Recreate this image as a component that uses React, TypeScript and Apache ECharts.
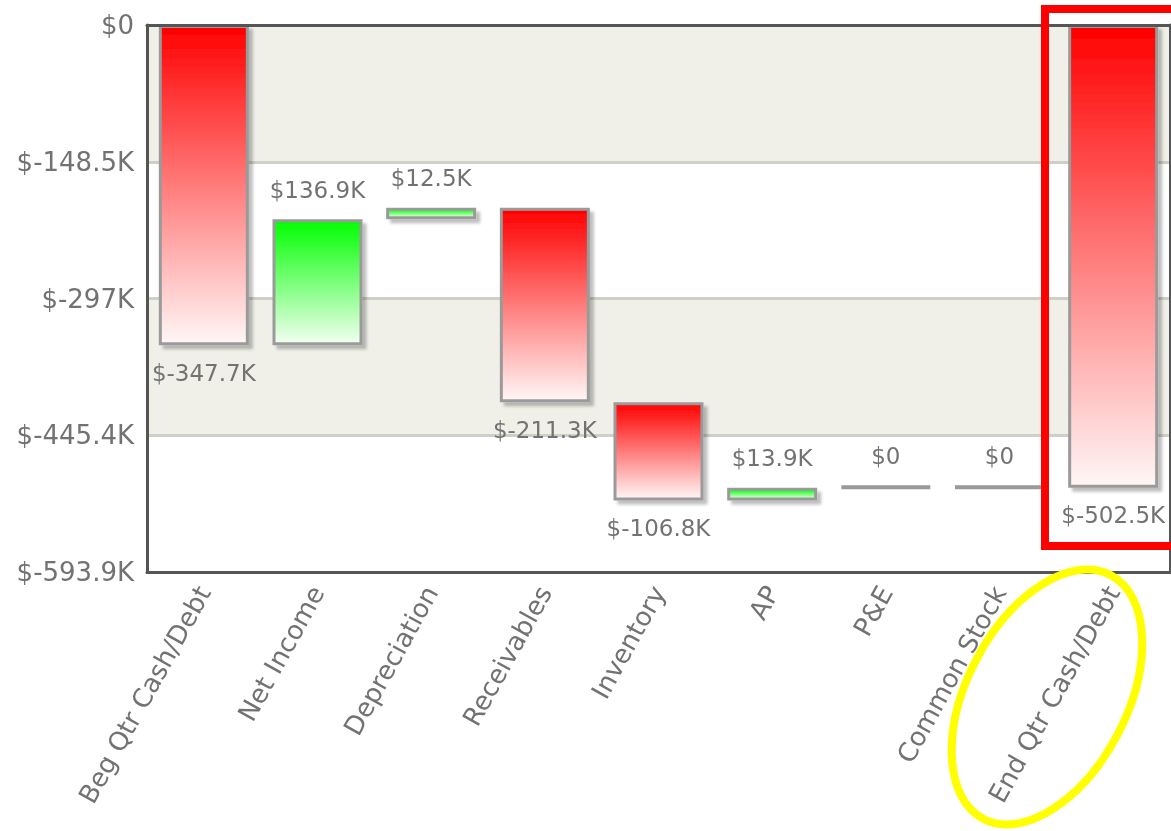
import React, { useEffect, useRef } from 'react';
import * as echarts from 'echarts';

// Waterfall data (values in $K)
const categories = [
  'Beg Qtr Cash/Debt',
  'Net Income',
  'Depreciation',
  'Receivables',
  'Inventory',
  'AP',
  'P&E',
  'Common Stock',
  'End Qtr Cash/Debt',
];
const amounts = [-347.7, 136.9, 12.5, -211.3, -106.8, 13.9, 0, 0, -502.5];
const isTotal = [true, false, false, false, false, false, false, false, true];
const yTickLabels = ['$0', '$-148.5K', '$-297K', '$-445.4K', '$-593.9K'];
const yMin = -593.9;
const yStep = 148.475;

const TEXT = '#727272';
const FONT = 'DejaVu Sans';
const FRAME = { color: '#555555', width: 3 };

function buildWaterfall() {
  let running = 0;
  const base: number[] = [];
  const span: number[] = [];
  amounts.forEach((a, i) => {
    if (isTotal[i]) {
      base.push(0);
      span.push(a);
      running = a;
    } else {
      const start = running;
      const end = running + a;
      running = end;
      base.push(Math.max(start, end));
      span.push(a === 0 ? 0 : -Math.abs(a));
    }
  });
  return { base, span };
}

const redGrad = () =>
  new echarts.graphic.LinearGradient(0, 0, 0, 1, [
    { offset: 0, color: '#ff0000' },
    { offset: 1, color: '#fff6f6' },
  ]);
const greenGrad = () =>
  new echarts.graphic.LinearGradient(0, 0, 0, 1, [
    { offset: 0, color: '#00ff00' },
    { offset: 1, color: '#f2fff2' },
  ]);

export default function App() {
  const ref = useRef<HTMLDivElement>(null);
  useEffect(() => {
    if (!ref.current) return;
    const chart = echarts.init(ref.current, undefined, { renderer: 'svg' });
    const { base, span } = buildWaterfall();
    const fmt = (a: number) => (a === 0 ? '$0' : `$${a}K`);
    chart.setOption({
      animation: false,
      grid: {
        left: 147,
        top: 25,
        width: 1023,
        height: 547,
        show: false,
      },
      xAxis: [
        {
          type: 'category',
          data: categories,
          position: 'bottom',
          axisLine: { show: true, onZero: false, lineStyle: FRAME },
          axisTick: { show: false },
          axisLabel: {
            interval: 0,
            rotate: 61,
            fontSize: 26,
            color: TEXT,
            fontFamily: FONT,
            margin: 16,
          },
          z: 6,
        },
        {
          type: 'category',
          data: categories,
          position: 'top',
          axisLine: { show: true, onZero: false, lineStyle: FRAME },
          axisTick: { show: false },
          axisLabel: { show: false },
          z: 6,
        },
      ],
      yAxis: [
        {
          type: 'value',
          min: yMin,
          max: 0,
          interval: yStep,
          position: 'left',
          axisLine: { show: true, onZero: false, lineStyle: FRAME },
          axisTick: { show: false },
          axisLabel: {
            formatter: (v: number) => yTickLabels[Math.round(-v / yStep)] ?? '',
            fontSize: 26,
            color: TEXT,
            fontFamily: FONT,
            margin: 13,
          },
          splitLine: { lineStyle: { color: '#cfcfc7', width: 3 } },
          splitArea: { show: true, areaStyle: { color: ['#ffffff', '#f0f0e9'] } },
          z: 0,
        },
        {
          type: 'value',
          min: yMin,
          max: 0,
          interval: yStep,
          position: 'right',
          axisLine: { show: true, onZero: false, lineStyle: FRAME },
          axisTick: { show: false },
          axisLabel: { show: false },
          splitLine: { show: false },
          splitArea: { show: false },
          z: 6,
        },
      ],
      series: [
        {
          type: 'bar',
          stack: 'wf',
          stackStrategy: 'all',
          silent: true,
          barWidth: 90,
          itemStyle: { color: 'transparent', borderWidth: 0 },
          data: base,
        },
        {
          type: 'bar',
          stack: 'wf',
          stackStrategy: 'all',
          barWidth: 90,
          barMinHeight: 1,
          itemStyle: {
            borderColor: '#9a9a9a',
            borderWidth: 3,
            shadowColor: 'rgba(0,0,0,0.25)',
            shadowBlur: 3,
            shadowOffsetX: 4,
            shadowOffsetY: 4,
          },
          label: {
            show: true,
            fontSize: 23,
            color: TEXT,
            fontFamily: FONT,
          },
          data: span.map((v, i) => ({
            value: v,
            itemStyle:
              amounts[i] === 0
                ? { color: '#999999', borderColor: '#999999', borderWidth: 4, shadowBlur: 0, shadowColor: 'transparent', shadowOffsetX: 0, shadowOffsetY: 0 }
                : { color: amounts[i] > 0 ? greenGrad() : redGrad() },
            label: {
              position: amounts[i] < 0 ? 'bottom' : 'top',
              distance: amounts[i] < 0 ? 16 : 18,
              formatter: () => fmt(amounts[i]),
            },
          })),
        },
      ],
      graphic: [
        {
          type: 'rect',
          z: 100,
          shape: { x: 1045, y: 9, width: 170, height: 537 },
          style: { fill: 'none', stroke: '#ff0000', lineWidth: 8 },
        },
        {
          type: 'ellipse',
          z: 100,
          x: 1047,
          y: 697,
          rotation: (62.5 * Math.PI) / 180,
          shape: { cx: 0, cy: 0, rx: 137.5, ry: 80 },
          style: { fill: 'none', stroke: '#ffff00', lineWidth: 8 },
        },
      ],
    });
    return () => chart.dispose();
  }, []);
  return (
    <div
      ref={ref}
      style={{ position: 'fixed', left: 0, top: 0, width: 1171, height: 831 }}
    />
  );
}
